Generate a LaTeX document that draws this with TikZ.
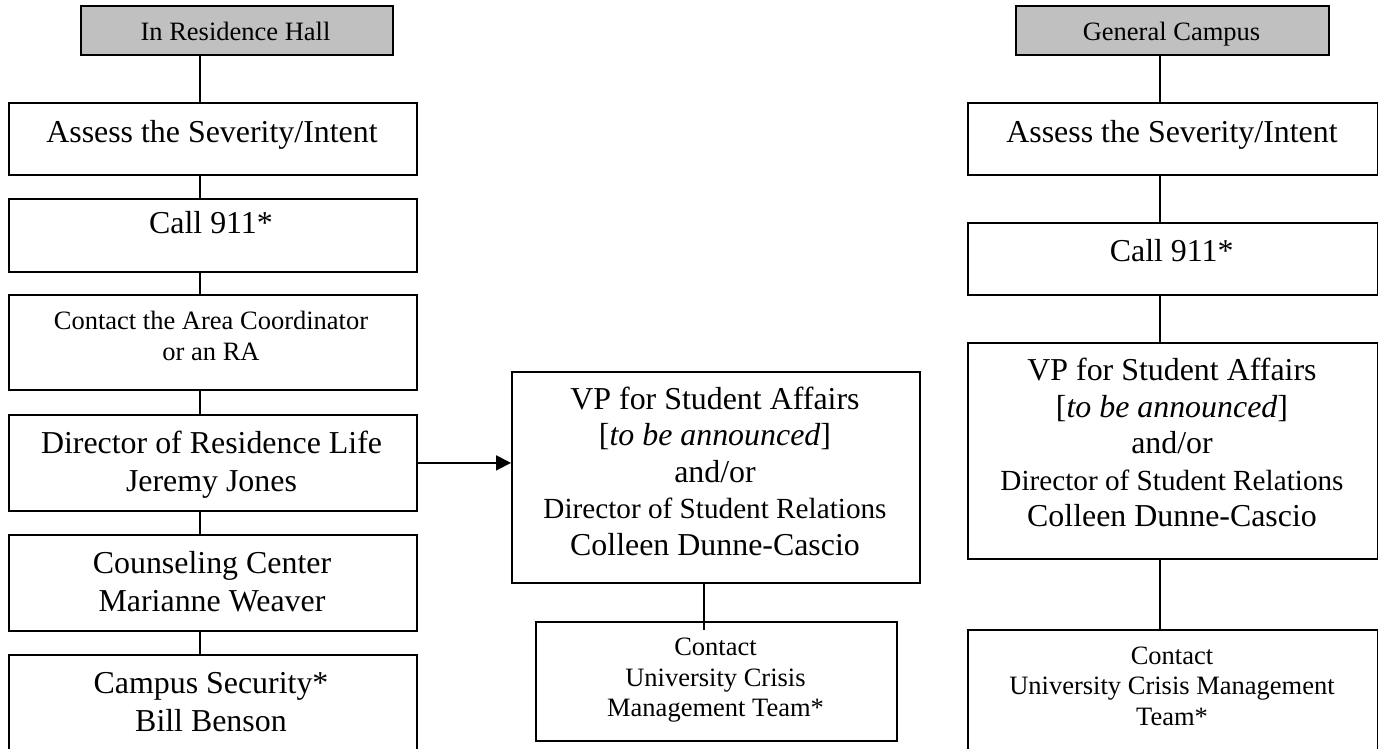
\documentclass[tikz,border=0pt]{standalone}
\usepackage{fontspec}
\setmainfont{Liberation Serif}
\usetikzlibrary{arrows.meta,calc}
\definecolor{hdrgray}{HTML}{C0C0C0}
\begin{document}
\begin{tikzpicture}[x=0.5pt,y=-0.5pt,
  box/.style={draw=black,line width=0.9pt,rectangle,inner sep=0pt,anchor=north west},
  hdr/.style={box,fill=hdrgray},
  big/.style={font=\fontsize{15.95}{19}\selectfont,align=center,anchor=base,inner sep=0pt},
  vptext/.style={font=\fontsize{15.95}{18.25}\selectfont,align=center,anchor=base,inner sep=0pt},
  small/.style={font=\fontsize{13.25}{15.25}\selectfont,align=center,anchor=base,inner sep=0pt},
  link/.style={line width=0.9pt},
  arrowlink/.style={line width=0.9pt,-{Triangle[length=7.5pt,width=7.5pt]}}]
\clip (0,0) rectangle (1378,749);
\fill[white] (0,0) rectangle (1378,749);

% ---- left column
\node[hdr,minimum width=156pt,minimum height=24.5pt] (hdrL) at (80,5) {};
\node[box,minimum width=204pt,minimum height=36pt] (assessL) at (8,102) {};
\node[box,minimum width=204pt,minimum height=36.5pt] (callL) at (8,198) {};
\node[box,minimum width=204pt,minimum height=47.5pt] (contactL) at (8,294) {};
\node[box,minimum width=204pt,minimum height=48pt] (dirL) at (8,414) {};
\node[box,minimum width=204pt,minimum height=48pt] (counsL) at (8,534) {};
\node[box,minimum width=204pt,minimum height=55pt] (secL) at (8,654) {};

% (base anchor of a multi-line text = baseline of its last line)
\node[small] (tHdrL) at (235.5,40.7) {In Residence Hall};
\node[big] (tAssL) at (212,142.5) {Assess the Severity/Intent};
\node[big] (tCallL) at (211,233.5) {Call 911*};
\node[small] (tConL) at (211,360) {Contact the Area Coordinator\\or an RA};
\node[big] (tDirL) at (211.5,491) {Director of Residence Life\\Jeremy Jones};
\node[big] (tCouL) at (212,611) {Counseling Center\\Marianne Weaver};
\node[big] (tSecL) at (211,731) {Campus Security*\\Bill Benson};

\coordinate (sL) at (200,0);
\draw[link] (hdrL.south -| sL) -- (assessL.north -| sL);
\draw[link] (assessL.south -| sL) -- (callL.north -| sL);
\draw[link] (callL.south -| sL) -- (contactL.north -| sL);
\draw[link] (contactL.south -| sL) -- (dirL.north -| sL);
\draw[link] (dirL.south -| sL) -- (counsL.north -| sL);
\draw[link] (counsL.south -| sL) -- (secL.north -| sL);

% ---- middle column
\node[box,minimum width=204pt,minimum height=105.5pt] (vpM) at (511,371) {};
\node[box,minimum width=180.5pt,minimum height=59.5pt] (ucmtM) at (535,621) {};

\node[vptext] (tVpM) at (715,555) {VP for Student Affairs\\{[}\textit{to be announced}]\\and/or\\{\fontsize{14.6}{18.25}\selectfont Director of Student Relations}\\Colleen Dunne-Cascio};
\node[small] (tUcmtM) at (715.5,716.5) {Contact\\University Crisis\\Management Team*};

\draw[arrowlink] (dirL.east) -- (vpM.west |- dirL.east);
\coordinate (sM) at (704,0);
\draw[link] (vpM.south -| sM) -- ($(ucmtM.north -| sM)+(0,9)$);

% ---- right column
\node[hdr,minimum width=156.5pt,minimum height=24.5pt] (hdrR) at (1015,5) {};
\node[box,minimum width=205pt,minimum height=36pt] (assessR) at (967,102) {};
\node[box,minimum width=205pt,minimum height=36pt] (callR) at (967,222) {};
\node[box,minimum width=205pt,minimum height=108pt] (vpR) at (967,342) {};
\node[box,minimum width=205pt,minimum height=65pt] (ucmtR) at (967,629) {};

\node[small] (tHdrR) at (1171.5,40.7) {General Campus};
\node[big] (tAssR) at (1172,142.7) {Assess the Severity/Intent};
\node[big] (tCallR) at (1171.7,262) {Call 911*};
\node[vptext] (tVpR) at (1172,526.5) {VP for Student Affairs\\{[}\textit{to be announced}]\\and/or\\{\fontsize{14.6}{18.25}\selectfont Director of Student Relations}\\Colleen Dunne-Cascio};
\node[small] (tUcmtR) at (1172,725) {Contact\\University Crisis Management\\Team*};

\coordinate (sR) at (1160,0);
\draw[link] (hdrR.south -| sR) -- (assessR.north -| sR);
\draw[link] (assessR.south -| sR) -- (callR.north -| sR);
\draw[link] (callR.south -| sR) -- (vpR.north -| sR);
\draw[link] (vpR.south -| sR) -- (ucmtR.north -| sR);
\end{tikzpicture}
\end{document}
